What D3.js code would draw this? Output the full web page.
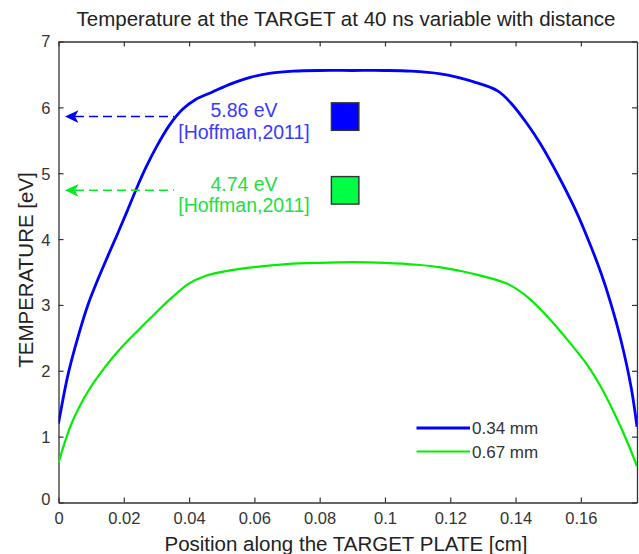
<!DOCTYPE html>
<html>
<head>
<meta charset="utf-8">
<script src="https://cdn.jsdelivr.net/npm/d3@7"></script>
<style>
  html, body { margin: 0; padding: 0; background: #fff; }
  svg { display: block; font-family: "Liberation Sans", Arial, sans-serif; }
</style>
</head>
<body>
<svg id="chart" width="639" height="554"></svg>
<script>
// Electron temperature profile across the target plate (simulation at 40 ns)
const posThin = [0, 0.003, 0.006, 0.009, 0.012, 0.015, 0.018, 0.021, 0.024, 0.027, 0.030, 0.034, 0.038,
  0.042, 0.047, 0.053, 0.059, 0.065, 0.072, 0.080, 0.090, 0.100, 0.108, 0.117, 0.122, 0.127,
  0.1345, 0.1385, 0.1437, 0.1477, 0.1529, 0.158, 0.1621, 0.1662, 0.1692, 0.1723, 0.1754, 0.1772];
const tempThin = [1.20, 1.96, 2.52, 3.00, 3.38, 3.73, 4.07, 4.42, 4.78, 5.11, 5.40, 5.73, 5.97,
  6.12, 6.23, 6.36, 6.46, 6.52, 6.55, 6.56, 6.56, 6.56, 6.55, 6.51, 6.46, 6.39,
  6.25, 6.07, 5.74, 5.44, 4.98, 4.48, 4.01, 3.48, 3.02, 2.46, 1.75, 1.15];

const posThick = [0, 0.004, 0.0092, 0.0143, 0.0194, 0.0245, 0.0296, 0.0347, 0.0398, 0.0449, 0.0521,
  0.0593, 0.070, 0.080, 0.090, 0.100, 0.110, 0.1171, 0.1273, 0.1375, 0.1437, 0.1498, 0.1559,
  0.1621, 0.1662, 0.1703, 0.1744, 0.1772];
const tempThick = [0.60, 1.20, 1.70, 2.06, 2.36, 2.62, 2.87, 3.11, 3.32, 3.44, 3.52,
  3.57, 3.62, 3.64, 3.65, 3.64, 3.61, 3.57, 3.47, 3.32, 3.12, 2.82, 2.47,
  2.08, 1.75, 1.35, 0.90, 0.55];

const seriesNames = ["0.34 mm", "0.67 mm"];

// Reference measurements
const refValues = [5.86, 4.74];
const refLabels = ["5.86 eV", "4.74 eV"];
const refSource = "[Hoffman,2011]";

const xTicks = [0, 0.02, 0.04, 0.06, 0.08, 0.1, 0.12, 0.14, 0.16];
const xTickLabels = ["0", "0.02", "0.04", "0.06", "0.08", "0.1", "0.12", "0.14", "0.16"];
const yTicks = [0, 1, 2, 3, 4, 5, 6, 7];

const titleText = "Temperature at the TARGET at 40 ns variable with distance";
const xLabel = "Position along the TARGET PLATE [cm]";
const yLabel = "TEMPERATURE [eV]";

// ---- layout ----
const svg = d3.select("#chart");
const plot = { left: 58.5, right: 637, top: 41.5, bottom: 502.5 };
const x = d3.scaleLinear().domain([0, 0.1772]).range([plot.left, plot.right]);
const y = d3.scaleLinear().domain([0, 7]).range([plot.bottom, plot.top]);

const axisColor = "#333";
const blue = "#0000ff";
const green = "#00ee00";
const refXPos = 0.0878;

// clip for curves
svg.append("defs").append("clipPath").attr("id", "plotclip")
  .append("rect").attr("x", plot.left).attr("y", plot.top)
  .attr("width", plot.right - plot.left).attr("height", plot.bottom - plot.top);

// ---- axes (box with inward ticks) ----
const tickLen = 5;
const axB = svg.append("g").attr("transform", `translate(0,${plot.bottom})`)
  .call(d3.axisBottom(x).tickValues(xTicks).tickSizeInner(-tickLen).tickSizeOuter(0)
    .tickFormat((d, i) => xTickLabels[i]));
const axT = svg.append("g").attr("transform", `translate(0,${plot.top})`)
  .call(d3.axisTop(x).tickValues(xTicks).tickSizeInner(-tickLen).tickSizeOuter(0).tickFormat(""));
const axL = svg.append("g").attr("transform", `translate(${plot.left},0)`)
  .call(d3.axisLeft(y).tickValues(yTicks).tickSizeInner(-tickLen).tickSizeOuter(0).tickFormat(d3.format("d")));
const axR = svg.append("g").attr("transform", `translate(${plot.right},0)`)
  .call(d3.axisRight(y).tickValues(yTicks).tickSizeInner(-tickLen).tickSizeOuter(0).tickFormat(""));

[axB, axT, axL, axR].forEach(g => {
  g.select(".domain").attr("stroke", axisColor).attr("stroke-width", 1.3);
  g.selectAll(".tick line").attr("stroke", axisColor).attr("stroke-width", 1.2);
  g.selectAll("text").attr("fill", "#333").attr("font-size", 16.5)
    .attr("font-family", "Liberation Sans, Arial, sans-serif");
});
axB.selectAll("text").attr("y", 10).attr("dy", "0.71em");
axL.selectAll("text").attr("x", -8).attr("dy", "0.36em");
// end labels sit slightly inside the corners
axL.selectAll(".tick").filter(d => d === 0).select("text").attr("dy", "0.1em");
axL.selectAll(".tick").filter(d => d === 7).select("text").attr("dy", "0.3em");

// ---- curves ----
const line = d3.line().x(d => x(d[0])).y(d => y(d[1])).curve(d3.curveCatmullRom.alpha(0.5));
const curves = svg.append("g").attr("clip-path", "url(#plotclip)");
curves.append("path").datum(d3.zip(posThick, tempThick))
  .attr("d", line).attr("fill", "none").attr("stroke", green).attr("stroke-width", 2.2);
curves.append("path").datum(d3.zip(posThin, tempThin))
  .attr("d", line).attr("fill", "none").attr("stroke", blue).attr("stroke-width", 2.8);

// ---- reference annotations ----
const refColors = [blue, "#00ee22"];
const refTextColors = ["#3a3aff", "#22e040"];
const refFill = [blue, "#00ff44"];
refValues.forEach((v, i) => {
  const yy = y(v);
  const tipX = x(0) + 6.5;
  const g = svg.append("g");
  g.append("line").attr("x1", tipX + 10).attr("x2", 174).attr("y1", yy).attr("y2", yy)
    .attr("stroke", refColors[i]).attr("stroke-width", 1.5).attr("stroke-dasharray", "9,5");
  g.append("path")
    .attr("d", `M${tipX},${yy} L${tipX + 13.5},${yy - 6.3} L${tipX + 10},${yy} L${tipX + 13.5},${yy + 6.3} Z`)
    .attr("fill", refColors[i]);
  g.append("text").attr("x", 244).attr("y", yy + 0.5).attr("text-anchor", "middle")
    .attr("font-size", 19.5).attr("fill", refTextColors[i]).text(refLabels[i]);
  g.append("text").attr("x", 244).attr("y", yy + 22).attr("text-anchor", "middle")
    .attr("font-size", 19.5).attr("fill", refTextColors[i]).text(refSource);
  const s = 27.5;
  g.append("rect").attr("x", x(refXPos) - s / 2).attr("y", yy - s / 2)
    .attr("width", s).attr("height", s)
    .attr("fill", refFill[i]).attr("stroke", "#333").attr("stroke-width", 1.4);
});

// ---- legend ----
const legend = svg.append("g");
const legendColors = [blue, green];
const legendWidths = [2.8, 2.2];
seriesNames.forEach((name, i) => {
  const ly = 428 + i * 23.5;
  legend.append("line").attr("x1", 416.5).attr("x2", 470).attr("y1", ly).attr("y2", ly)
    .attr("stroke", legendColors[i]).attr("stroke-width", legendWidths[i]);
  legend.append("text").attr("x", 472).attr("y", ly).attr("dy", "0.36em")
    .attr("font-size", 17).attr("fill", "#333").text(name);
});

// ---- titles ----
svg.append("text").attr("x", 346).attr("y", 26).attr("text-anchor", "middle")
  .attr("font-size", 20.5).attr("fill", "#222").text(titleText);
svg.append("text").attr("x", 346).attr("y", 551).attr("text-anchor", "middle")
  .attr("font-size", 20.5).attr("fill", "#222").text(xLabel);
svg.append("text").attr("transform", "translate(33,270) rotate(-90)").attr("text-anchor", "middle")
  .attr("font-size", 20.5).attr("fill", "#222").text(yLabel);
</script>
</body>
</html>
